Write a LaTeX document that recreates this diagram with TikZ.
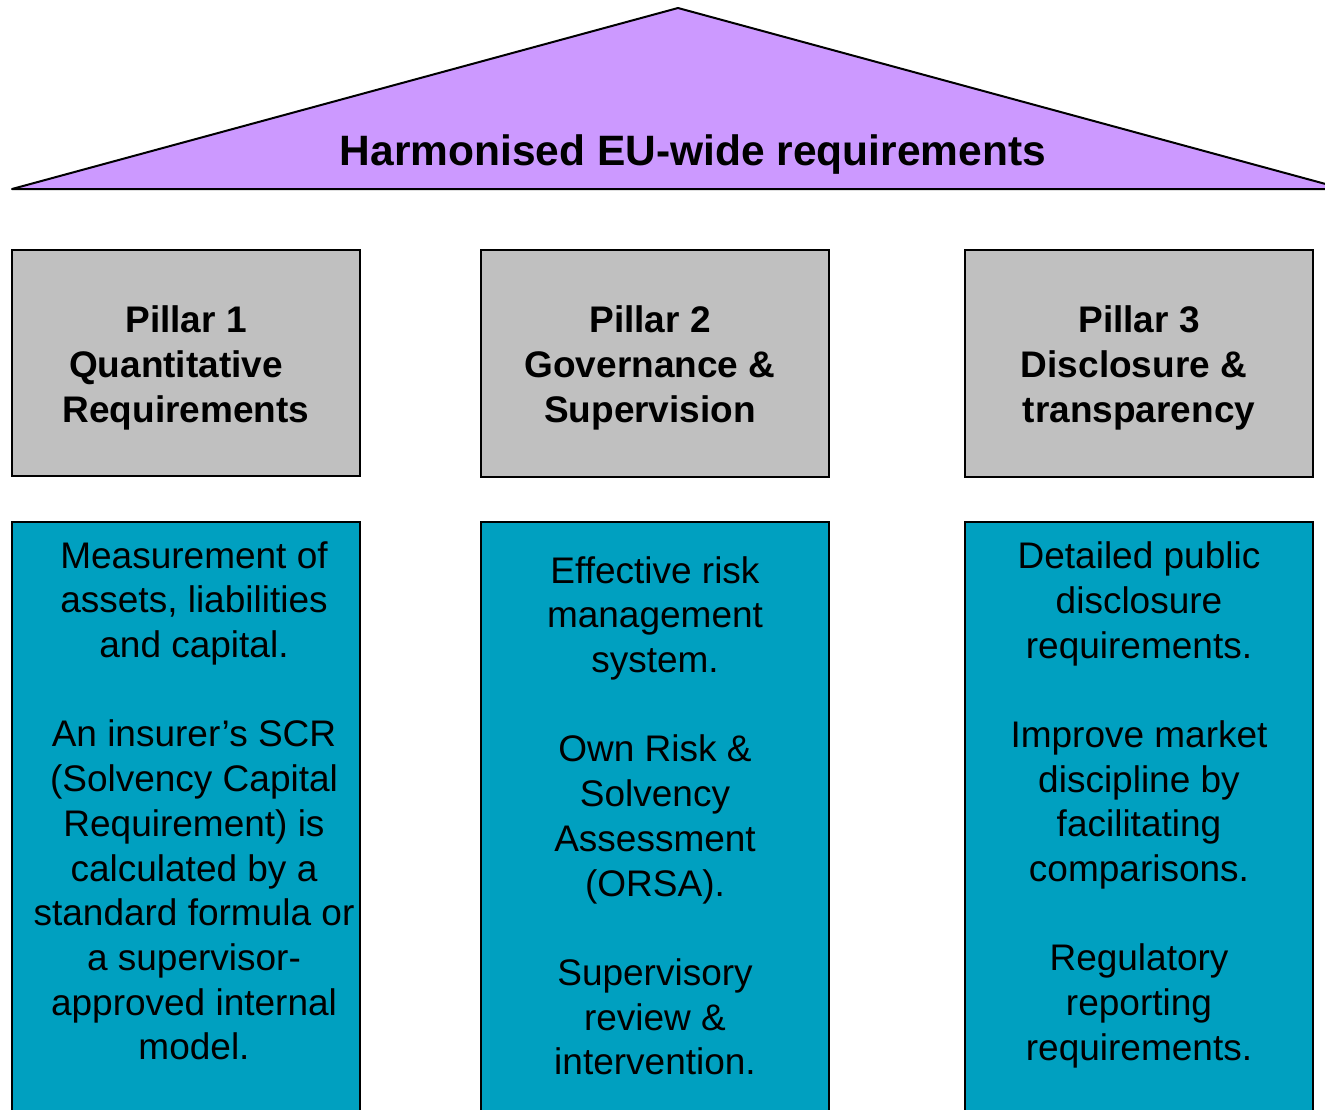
\documentclass[tikz,border=0pt]{standalone}
\usepackage{fontspec}
\setmainfont{Liberation Sans}
\definecolor{roof}{RGB}{204,153,255}
\definecolor{pillar}{RGB}{192,192,192}
\definecolor{base}{RGB}{0,160,192}
\begin{document}
\begin{tikzpicture}[x=1pt,y=-1pt,
 box/.style={draw=black,line width=2pt},
 head/.style={align=center,inner sep=0pt,font=\fontsize{37}{45}\selectfont\bfseries},
 body/.style={align=center,inner sep=0pt,font=\fontsize{37}{44.7}\selectfont}]
 \useasboundingbox (0,0) rectangle (1325,1109);
 % roof
 \draw[box,fill=roof,line join=round](12,189)--(678,8)--(1344,189)--cycle;
 \node[anchor=base,inner sep=0pt,font=\fontsize{42.5}{50}\selectfont\bfseries] (title) at (693,165) {Harmonised EU-wide requirements};
 % pillars
 \draw[box,fill=pillar](12,250) rectangle (360,476);
 \draw[box,fill=pillar](481,250) rectangle (829,477);
 \draw[box,fill=pillar](965,250) rectangle (1313,477);
 \node[head] (head1) at (186,368) {\strut Pillar 1\\Quantitative\kern20pt\\Requirements\strut};
 \node[head] (head2) at (650,368) {\strut Pillar 2\\Governance \&\\Supervision\strut};
 \node[head] (head3) at (1139,368) {\strut Pillar 3\\Disclosure \&\kern10pt\\transparency\strut};
 % bases
 \draw[box,fill=base](12,522) rectangle (360,1125);
 \draw[box,fill=base](481,522) rectangle (829,1125);
 \draw[box,fill=base](965,522) rectangle (1313,1125);
 \node[body] (body1) at (194,805) {\strut Measurement of\\assets, liabilities\\and capital.\\[44.7pt]An insurer’s SCR\\(Solvency Capital\\Requirement) is\\calculated by a\\standard formula or\\a supervisor-\\approved internal\\model.\strut};
 \node[body] (body2) at (655,820) {\strut Effective risk\\management\\system.\\[44.7pt]Own Risk \&\\Solvency\\Assessment\\(ORSA).\\[44.7pt]Supervisory\\review \&\\intervention.\strut};
 \node[body] (body3) at (1139,805.5) {\strut Detailed public\\disclosure\\requirements.\\[44.7pt]Improve market\\discipline by\\facilitating\\comparisons.\\[44.7pt]Regulatory\\reporting\\requirements.\strut};
\end{tikzpicture}
\end{document}
